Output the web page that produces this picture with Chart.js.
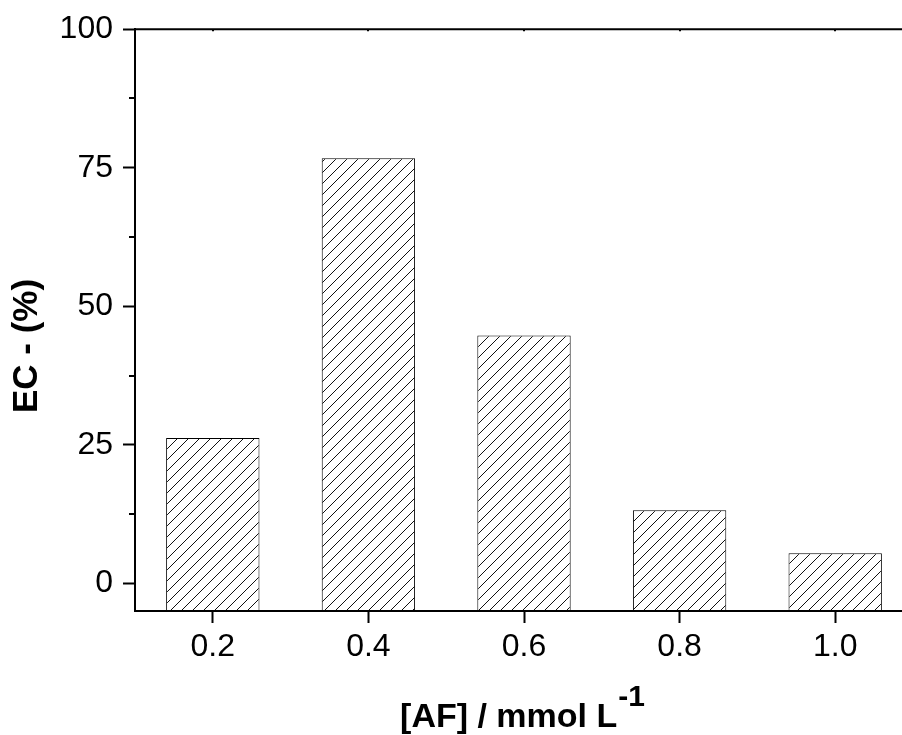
<!DOCTYPE html>
<html>
<head>
<meta charset="utf-8">
<script src="https://cdn.jsdelivr.net/npm/chart.js@4.4.1/dist/chart.umd.min.js"></script>
<style>
  html, body { margin: 0; padding: 0; background: #fff; overflow: hidden; }
  #wrap { width: 913px; height: 735px; }
</style>
</head>
<body>
<div id="wrap"><canvas id="chart" width="913" height="735"></canvas></div>
<script>
// EC (%) against [AF] concentration
const categories = ['0.2', '0.4', '0.6', '0.8', '1.0'];
const ecValues = [26.2, 76.7, 44.7, 13.2, 5.4];
const yTickValues = [0, 12.5, 25, 37.5, 50, 62.5, 75, 87.5, 100];
const yLabelEvery = 25;
const yMin = -5;
const yMax = 100;
const yTitle = 'EC - (%)';
const xTitle = '[AF] / mmol L';
const xTitleSup = '-1';

const FONT = "'Liberation Sans', Arial, sans-serif";

function isMajor(value) {
    return Math.abs(value % yLabelEvery) < 1e-9;
}

function makeHatch(ctx) {
    const size = 11;
    const c = document.createElement('canvas');
    c.width = size;
    c.height = size;
    const g = c.getContext('2d');
    g.fillStyle = '#ffffff';
    g.fillRect(0, 0, size, size);
    g.strokeStyle = '#111';
    g.lineWidth = 1;
    g.beginPath();
    g.moveTo(0, size); g.lineTo(size, 0);
    g.moveTo(-size / 2, size / 2); g.lineTo(size / 2, -size / 2);
    g.moveTo(size / 2, size * 1.5); g.lineTo(size * 1.5, size / 2);
    g.stroke();
    return ctx.createPattern(c, 'repeat');
}

// frame top line, minor ticks and the two axis titles
const framePlugin = {
    id: 'frame',
    afterDraw(chart) {
        const { ctx, chartArea } = chart;
        const y = chart.scales.y;
        const x = chart.scales.x;
        ctx.save();
        ctx.strokeStyle = '#000';
        ctx.lineWidth = 2;
        ctx.beginPath();
        ctx.moveTo(chartArea.left - 1, chartArea.top);
        ctx.lineTo(chartArea.right, chartArea.top);
        ctx.stroke();

        // tiny inward ticks on the top frame at each category
        categories.forEach((_, i) => {
            const px = Math.round(x.getPixelForTick(i));
            ctx.beginPath();
            ctx.moveTo(px, chartArea.top);
            ctx.lineTo(px, chartArea.top + 2);
            ctx.stroke();
        });

        yTickValues.filter(v => !isMajor(v)).forEach(v => {
            const py = Math.round(y.getPixelForValue(v));
            ctx.beginPath();
            ctx.moveTo(chartArea.left - 6, py);
            ctx.lineTo(chartArea.left, py);
            ctx.stroke();
        });

        // y title
        ctx.fillStyle = '#000';
        ctx.font = 'bold 35px ' + FONT;
        ctx.textAlign = 'center';
        ctx.textBaseline = 'middle';
        ctx.translate(27, 346);
        ctx.rotate(-Math.PI / 2);
        ctx.fillText(yTitle, 0, 0);
        ctx.setTransform(1, 0, 0, 1, 0, 0);

        // x title with superscript
        ctx.textAlign = 'left';
        ctx.textBaseline = 'alphabetic';
        ctx.font = 'bold 34px ' + FONT;
        const mainW = ctx.measureText(xTitle).width;
        ctx.font = 'bold 30px ' + FONT;
        const supW = ctx.measureText(xTitleSup).width;
        const x0 = 522 - (mainW + supW) / 2;
        ctx.font = 'bold 34px ' + FONT;
        ctx.fillText(xTitle, x0, 727);
        ctx.font = 'bold 30px ' + FONT;
        ctx.fillText(xTitleSup, x0 + mainW + 1, 706);
        ctx.restore();
    }
};

const canvas = document.getElementById('chart');
const context = canvas.getContext('2d');

new Chart(canvas, {
    type: 'bar',
    data: {
        labels: categories,
        datasets: [{
            data: ecValues,
            base: yMin,
            backgroundColor: makeHatch(context),
            borderColor: '#000',
            borderWidth: 1,
            borderSkipped: false,
            barPercentage: 0.6,
            categoryPercentage: 1.0
        }]
    },
    options: {
        responsive: false,
        animation: false,
        layout: {
            padding: { left: 0, right: 0, top: 27, bottom: 0 }
        },
        plugins: {
            legend: { display: false },
            tooltip: { enabled: false }
        },
        scales: {
            x: {
                type: 'category',
                offset: true,
                grid: {
                    offset: false,
                    drawOnChartArea: false,
                    tickLength: 12,
                    tickWidth: 2,
                    tickColor: '#000'
                },
                border: { display: true, color: '#000', width: 2 },
                ticks: {
                    color: '#000',
                    padding: 5,
                    maxRotation: 0,
                    font: { family: FONT, size: 32 }
                },
                afterFit(scale) {
                    scale.height = 124;
                }
            },
            y: {
                min: yMin,
                max: yMax,
                grid: {
                    drawOnChartArea: false,
                    tickLength: 12,
                    tickWidth: 2,
                    tickColor: (c) => (c.tick && isMajor(c.tick.value) ? '#000' : 'rgba(0,0,0,0)')
                },
                border: { display: true, color: '#000', width: 2 },
                ticks: {
                    color: '#000',
                    padding: 10,
                    font: { family: FONT, size: 32 },
                    callback: (value) => (isMajor(value) ? String(value) : '')
                },
                afterBuildTicks(scale) {
                    scale.ticks = yTickValues.map(v => ({ value: v }));
                },
                afterFit(scale) {
                    scale.width = 135;
                }
            }
        }
    },
    plugins: [framePlugin]
});
</script>
</body>
</html>
